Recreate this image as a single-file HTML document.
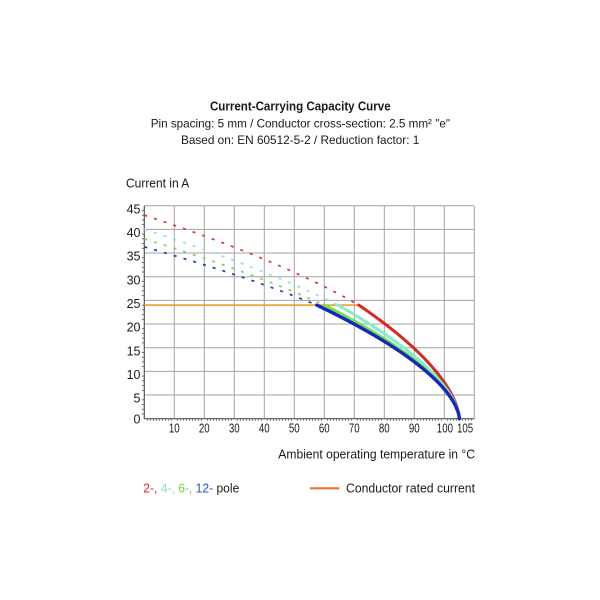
<!DOCTYPE html>
<html><head><meta charset="utf-8"><style>
html,body{margin:0;padding:0;background:#fff;width:600px;height:600px;overflow:hidden}
svg{display:block}
text{font-family:"Liberation Sans Narrow","Liberation Sans",sans-serif;fill:#1a1a1a}
</style></head><body>
<svg id="s" width="600" height="600" viewBox="0 0 600 600" xmlns="http://www.w3.org/2000/svg">
<rect width="600" height="600" fill="#fff"/>
<g id="grid" stroke="#a3a3a3" stroke-width="1" fill="none"></g>
<g id="ticks" stroke="#555" stroke-width="0.8"></g>
<line x1="144.3" y1="205.7" x2="144.3" y2="418.7" stroke="#555" stroke-width="1.2"/>
<line x1="144.3" y1="418.7" x2="474.3" y2="418.7" stroke="#555" stroke-width="1.2"/>
<g id="curves" fill="none"></g>

<text x="300.3" y="110.7" font-size="12.5" font-weight="bold" text-anchor="middle" textLength="180.7" lengthAdjust="spacingAndGlyphs">Current-Carrying Capacity Curve</text>
<text x="150.7" y="127.3" font-size="12" textLength="299.3" lengthAdjust="spacingAndGlyphs">Pin spacing: 5 mm / Conductor cross-section: 2.5 mm² "e"</text>
<text x="181" y="144" font-size="12" textLength="238.3" lengthAdjust="spacingAndGlyphs">Based on: EN 60512-5-2 / Reduction factor: 1</text>
<text x="126" y="187.7" font-size="12.5" textLength="63.3" lengthAdjust="spacingAndGlyphs">Current in A</text>

<g font-size="12.5" text-anchor="end">
<text x="140.5" y="213.3">45</text>
<text x="140.5" y="237">40</text>
<text x="140.5" y="260.6">35</text>
<text x="140.5" y="284.3">30</text>
<text x="140.5" y="308">25</text>
<text x="140.5" y="331.6">20</text>
<text x="140.5" y="355.3">15</text>
<text x="140.5" y="379">10</text>
<text x="140.5" y="402.7">5</text>
<text x="140.5" y="423.3">0</text>
</g>
<g font-size="12.5">
<text x="168.9" y="432.7" textLength="10.8" lengthAdjust="spacingAndGlyphs">10</text>
<text x="198.9" y="432.7" textLength="10.8" lengthAdjust="spacingAndGlyphs">20</text>
<text x="228.9" y="432.7" textLength="10.8" lengthAdjust="spacingAndGlyphs">30</text>
<text x="258.9" y="432.7" textLength="10.8" lengthAdjust="spacingAndGlyphs">40</text>
<text x="288.9" y="432.7" textLength="10.8" lengthAdjust="spacingAndGlyphs">50</text>
<text x="318.9" y="432.7" textLength="10.8" lengthAdjust="spacingAndGlyphs">60</text>
<text x="348.9" y="432.7" textLength="10.8" lengthAdjust="spacingAndGlyphs">70</text>
<text x="378.9" y="432.7" textLength="10.8" lengthAdjust="spacingAndGlyphs">80</text>
<text x="408.9" y="432.7" textLength="10.8" lengthAdjust="spacingAndGlyphs">90</text>
<text x="436.8" y="432.7" textLength="16.2" lengthAdjust="spacingAndGlyphs">100</text>
<text x="457" y="432.7" textLength="16.2" lengthAdjust="spacingAndGlyphs">105</text>
</g>
<text x="278.3" y="458.3" font-size="12.5" textLength="196.7" lengthAdjust="spacingAndGlyphs">Ambient operating temperature in °C</text>

<text x="143.3" y="492.3" font-size="12.5" textLength="96" lengthAdjust="spacingAndGlyphs"><tspan fill="#e0262a">2-,</tspan><tspan fill="#7fe3d2"> 4-,</tspan><tspan fill="#6cd94a"> 6-,</tspan><tspan fill="#2c4fc4"> 12-</tspan><tspan> pole</tspan></text>
<line x1="310" y1="488.3" x2="339.3" y2="488.3" stroke="#f0702a" stroke-width="2.2"/>
<text x="346" y="492.3" font-size="12.5" textLength="129" lengthAdjust="spacingAndGlyphs">Conductor rated current</text>
</svg>
<script>
(function(){
var NS="http://www.w3.org/2000/svg";
function X(t){return 144.3+3*t;}
function Y(i){return 418.7-4.733*i;}
function el(parent,name,attrs){var e=document.createElementNS(NS,name);for(var k in attrs)e.setAttribute(k,attrs[k]);parent.appendChild(e);return e;}
var g=document.getElementById('grid');
for(var t=10;t<=110;t+=10){el(g,'line',{x1:X(t),y1:205.7,x2:X(t),y2:418.7});}
for(var i=5;i<=45;i+=5){el(g,'line',{x1:144.3,y1:Y(i),x2:474.3,y2:Y(i)});}
var tk=document.getElementById('ticks');
for(var i=1;i<45;i++){if(i%5)el(tk,'line',{x1:141.8,y1:Y(i),x2:144.3,y2:Y(i)});}
for(var t=1;t<110;t++){if(t%10)el(tk,'line',{x1:X(t),y1:418.7,x2:X(t),y2:420.8});}
var cv=document.getElementById('curves');
var curves=[
 {I0:43,Ts:71.5,dc:'#d23a32',sc:'#d42a22',w:3},
 {I0:40,Ts:64.5,dc:'#8fe3da',sc:'#86ecd0',w:3},
 {I0:38,Ts:60,dc:'#7fd45a',sc:'#6ee444',w:3},
 {I0:36.3,Ts:57.5,dc:'#2a36a8',sc:'#1428c0',w:3.4}
];
el(cv,'line',{x1:X(0),y1:Y(24),x2:X(71.5),y2:Y(24),stroke:'#f2a43c','stroke-width':1.8});
curves.forEach(function(c){
 var R=105-c.Ts;var q=Math.log(c.I0/24)/Math.log(105/R);
 var d='';
 for(var t=0;t<=c.Ts+0.001;t+=0.5){var I=24*Math.pow((105-t)/R,q);d+=(d?'L':'M')+X(t).toFixed(2)+' '+Y(I).toFixed(2);}
 el(cv,'path',{d:d,stroke:c.dc,'stroke-width':1.7,'stroke-dasharray':'3 7.2'});
});
curves.forEach(function(c){
 var R=105-c.Ts;var d='';
 var pts=[];
 for(var t=c.Ts;t<104.5;t+=0.5)pts.push(t);
 [104.6,104.75,104.85,104.92,104.97,105].forEach(function(v){pts.push(v);});
 pts.forEach(function(t){var I=24*Math.pow(Math.max(0,(105-t)/R),0.6);d+=(d?'L':'M')+X(t).toFixed(2)+' '+Y(I).toFixed(2);});
 el(cv,'path',{d:d,stroke:c.sc,'stroke-width':c.w,'stroke-linecap':'round','stroke-linejoin':'round'});
});
})();
</script>
</body></html>
